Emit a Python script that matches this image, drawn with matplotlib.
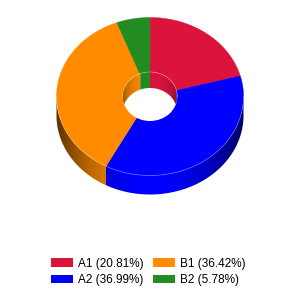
import numpy as np
import matplotlib
matplotlib.use("Agg")
import matplotlib.pyplot as plt
from matplotlib.patches import Polygon, Ellipse, Patch
from matplotlib.colors import to_rgb

plt.rcParams['font.family'] = ['Liberation Sans', 'DejaVu Sans']

# data
names = ["A1", "A2", "B1", "B2"]
values = [20.81, 36.99, 36.42, 5.78]
colors = ["#DC143C", "#0000FF", "#FF8C00", "#228B22"]

# geometry of the fake 3D donut (pixel coords, y down)
cx, cy = 150, 96.5
rx, ry = 93.5, 79
rx_in, ry_in = 27.3, 24.5
depth, depth_in = 19, 16

fig = plt.figure(figsize=(3, 3), dpi=100)
ax = fig.add_axes([0, 0, 1, 1])


def pt(t, a, b, dy=0):
    t = np.radians(t)
    return cx + a * np.cos(t), cy - b * np.sin(t) + dy


def arc(t0, t1, a, b, dy=0, n=120):
    return [pt(t, a, b, dy) for t in np.linspace(t0, t1, n)]


def gradient_fill(poly_pts, c, a, f_lo, f_hi, power, z):
    # cylinder-like shading: dark at the sides, bright in the middle
    poly = Polygon(poly_pts, closed=True, fc="none", ec="none")
    ax.add_patch(poly)
    xs = np.array([p[0] for p in poly_pts])
    ys = np.array([p[1] for p in poly_pts])
    x0, x1 = xs.min() - 1, xs.max() + 1
    y0, y1 = ys.min() - 1, ys.max() + 1
    gx = np.linspace(x0, x1, 300)
    s = np.sqrt(np.clip(1 - ((gx - cx) / a) ** 2, 0, 1))
    f = f_lo + (f_hi - f_lo) * s ** power
    row = np.clip(np.outer(f, to_rgb(c)), 0, 1)
    img = np.repeat(row[None, :, :], 2, axis=0)
    im = ax.imshow(img, extent=(x0, x1, y1, y0), origin="upper",
                   aspect="auto", interpolation="bilinear", zorder=z)
    im.set_clip_path(poly)


total = sum(values)
bounds = 90 - 360 * np.cumsum([0] + values) / total
slices = [(bounds[i], bounds[i + 1], colors[i]) for i in range(len(values))]

# outer side wall, front half
for t0, t1, c in slices:
    for lo, hi in [(-180, 0), (-540, -360)]:
        a, b = max(t1, lo), min(t0, hi)
        if a >= b:
            continue
        p = arc(a, b, rx, ry) + arc(b, a, rx, ry, depth)
        gradient_fill(p, c, rx, 0.36, 1.0, 2.0, z=1)

# top face sectors
for t0, t1, c in slices:
    p = [(cx, cy)] + arc(t0, t1, rx, ry, n=200)
    ax.add_patch(Polygon(p, closed=True, fc=c, ec=c, lw=0.3, zorder=2))

ax.plot(*zip(*arc(-180, 0, rx, ry)), color="white", alpha=0.3, lw=0.6, zorder=3)

# hole opening
ax.add_patch(Ellipse((cx, cy), 2 * rx_in, 2 * ry_in, fc="white", ec="none", zorder=3))

# inner wall, back half (cut off at the front rim of the opening)
for t0, t1, c in slices:
    for lo, hi in [(0, 180), (-360, -180)]:
        a, b = max(t1, lo), min(t0, hi)
        if a >= b:
            continue
        p = arc(a, b, rx_in, ry_in) + arc(b, a, rx_in, ry_in, depth_in)
        inside = []
        for x, y in p:
            y_lim = cy + ry_in * np.sqrt(max(0, 1 - ((x - cx) / rx_in) ** 2))
            inside.append((x, min(y, y_lim)))
        gradient_fill(inside, c, rx_in, 0.55, 1.0, 1.0, z=4)

ax.plot(*zip(*arc(0, 180, rx_in, ry_in)), color="white", alpha=0.3, lw=0.6, zorder=5)

# legend
labels = [f"{n} ({v / total * 100:.2f}%)" for n, v in zip(names, values)]
handles = [Patch(fc=c, ec="none") for c in colors]
ax.legend(handles, labels, ncol=2, loc="upper left",
          bbox_to_anchor=(51 / 300, 1 - 257.5 / 300), frameon=False,
          fontsize=8.5, borderpad=0, borderaxespad=0,
          handlelength=1.84, handleheight=0.71, handletextpad=0.45,
          columnspacing=0.8, labelspacing=0.42)

ax.set_xlim(0, 300)
ax.set_ylim(300, 0)
ax.axis("off")

fig.savefig("out.png", dpi=100)
